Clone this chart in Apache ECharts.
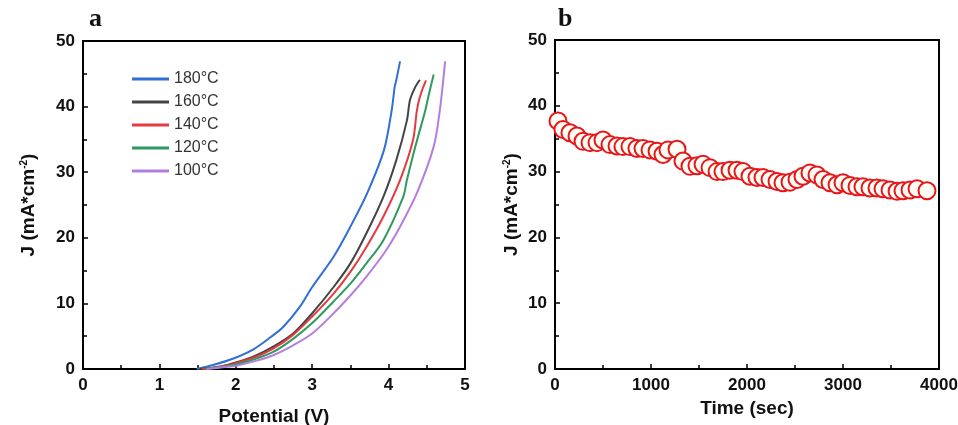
<!DOCTYPE html>
<html lang="en">
<head>
    <meta charset="UTF-8">
    <title>J-V and stability</title>
    <style>
        html, body { margin: 0; padding: 0; background: #fff; }
        #chart { width: 958px; height: 425px; }
    </style>
    <script src="https://cdn.jsdelivr.net/npm/echarts@6/dist/echarts.min.js"></script>
</head>
<body>
    <div id="chart"></div>
    <script>
        // panel a: J-V curves, [potential V, J mA/cm2]
        var legendNames = ['180°C', '160°C', '140°C', '120°C', '100°C'];
        var c180 = [[1.49, 0], [1.7, 0.6], [1.97, 1.6], [2.23, 3.0], [2.45, 4.8], [2.62, 6.4], [2.84, 9.5], [3.0, 12.5], [3.28, 17.1], [3.5, 21.7], [3.72, 26.8], [3.94, 33.4], [4.04, 39.4], [4.08, 43.0], [4.1, 44.0], [4.15, 46.9]];
        var c160 = [[1.53, 0], [1.8, 0.4], [2.0, 1.0], [2.25, 2.0], [2.49, 3.4], [2.75, 5.4], [3.0, 8.5], [3.28, 12.5], [3.5, 16.1], [3.71, 20.7], [3.93, 26.2], [4.1, 31.8], [4.24, 37.9], [4.28, 41.0], [4.35, 43.0], [4.41, 44.1]];
        var c140 = [[1.56, 0], [1.8, 0.35], [2.0, 0.9], [2.25, 1.8], [2.49, 3.1], [2.75, 5.2], [3.0, 8.0], [3.28, 11.5], [3.5, 14.8], [3.71, 18.6], [3.93, 23.2], [4.15, 28.8], [4.32, 34.9], [4.37, 39.4], [4.41, 41.5], [4.49, 44.0]];
        var c120 = [[1.6, 0], [1.8, 0.3], [2.0, 0.7], [2.25, 1.5], [2.49, 2.6], [2.75, 4.6], [3.0, 7.0], [3.28, 10.3], [3.5, 13.0], [3.71, 16.1], [3.93, 19.6], [4.19, 26.2], [4.24, 28.8], [4.35, 33.9], [4.48, 39.4], [4.52, 41.5], [4.59, 44.9]];
        var c100 = [[1.62, 0], [1.85, 0.3], [2.0, 0.5], [2.25, 1.2], [2.49, 2.1], [2.75, 3.6], [3.0, 5.4], [3.28, 8.5], [3.5, 11.2], [3.71, 14.1], [3.95, 17.8], [4.15, 21.7], [4.37, 26.8], [4.59, 33.9], [4.67, 39.4], [4.74, 46.9]];

        // panel b: stability test
        var timeSec = [31, 83, 156, 229, 292, 365, 438, 500, 573, 646, 708, 781, 854, 917, 990, 1063, 1125, 1177, 1271, 1333, 1406, 1479, 1542, 1615, 1688, 1750, 1823, 1896, 1958, 2031, 2104, 2167, 2240, 2313, 2375, 2448, 2521, 2583, 2656, 2729, 2792, 2865, 2938, 3000, 3073, 3146, 3208, 3281, 3354, 3417, 3490, 3563, 3625, 3698, 3771, 3875];
        var currentJ = [37.7, 36.4, 35.9, 35.4, 34.6, 34.4, 34.4, 34.8, 34.1, 33.9, 33.8, 33.8, 33.5, 33.5, 33.3, 33.1, 32.6, 33.3, 33.4, 31.6, 30.8, 30.9, 31.1, 30.6, 30.0, 30.0, 30.2, 30.2, 30.0, 29.3, 29.1, 29.1, 28.8, 28.5, 28.3, 28.4, 28.8, 29.3, 29.8, 29.5, 28.8, 28.3, 28.0, 28.3, 27.9, 27.7, 27.7, 27.5, 27.5, 27.4, 27.2, 27.0, 27.1, 27.2, 27.4, 27.1];

        var stab = timeSec.map(function (t, i) { return [t, currentJ[i]]; });
        var colors = ['#2f6fd6', '#444444', '#e53a40', '#2f9a5f', '#b47ee0'];
        var font = 'Liberation Sans, Arial, sans-serif';

        var labelStyle = { color: '#111', fontSize: 17, fontWeight: 'bold', fontFamily: font };
        var nameStyle = {
            color: '#111', fontSize: 19, fontWeight: 'bold', fontFamily: font,
            rich: { s: { fontSize: 10, fontWeight: 'bold', fontFamily: font, verticalAlign: 'top', lineHeight: 16, padding: [0, 0, 12, 0] } }
        };
        function axisCommon() {
            return {
                axisLine: { show: true, lineStyle: { color: '#000', width: 2 } },
                axisTick: { show: true, inside: true, length: 5, lineStyle: { color: '#000', width: 1.5 } },
                minorTick: { show: true, splitNumber: 2, length: 4, lineStyle: { color: '#000', width: 1.5 } },
                splitLine: { show: false },
                axisLabel: Object.assign({ margin: 8, formatter: function (v) { return String(v); } }, labelStyle),
                nameTextStyle: nameStyle,
                nameLocation: 'middle'
            };
        }

        var series = [];
        [c180, c160, c140, c120, c100].forEach(function (d, i) {
            series.push({
                name: legendNames[i],
                type: 'line',
                xAxisIndex: 0,
                yAxisIndex: 0,
                data: d,
                showSymbol: false,
                symbol: 'none',
                smooth: 0.3,
                lineStyle: { width: 2, color: colors[i] },
                itemStyle: { color: colors[i] }
            });
        });
        series.push({
            type: 'scatter',
            xAxisIndex: 1,
            yAxisIndex: 1,
            data: stab,
            symbol: 'circle',
            symbolSize: 17,
            itemStyle: { color: '#fffdf4', borderColor: '#e8161b', borderWidth: 2, opacity: 1 }
        });

        var myChart = echarts.init(document.getElementById('chart'));
        var option = {
            backgroundColor: '#fff',
            animation: false,
            grid: [
                { left: 83, top: 41, width: 382, height: 328, outerBoundsMode: 'none', show: true, borderColor: '#000', borderWidth: 2 },
                { left: 555, top: 40, width: 384, height: 329, outerBoundsMode: 'none', show: true, borderColor: '#000', borderWidth: 2 }
            ],
            legend: {
                data: legendNames,
                orient: 'vertical',
                left: 127,
                top: 66,
                itemWidth: 37,
                itemHeight: 3,
                itemGap: 7,
                icon: 'rect',
                textStyle: { fontSize: 16, color: '#333', fontFamily: font, padding: [0, 0, 0, 0] }
            },
            xAxis: [
                Object.assign(axisCommon(), { type: 'value', gridIndex: 0, min: 0, max: 5, interval: 1, name: 'Potential (V)', nameGap: 38 }),
                Object.assign(axisCommon(), { type: 'value', gridIndex: 1, min: 0, max: 4000, interval: 1000, name: 'Time (sec)', nameGap: 30 })
            ],
            yAxis: [
                Object.assign(axisCommon(), { type: 'value', gridIndex: 0, min: 0, max: 50, interval: 10, name: 'J (mA*cm{s|-2})', nameGap: 45 }),
                Object.assign(axisCommon(), { type: 'value', gridIndex: 1, min: 0, max: 50, interval: 10, name: 'J (mA*cm{s|-2})', nameGap: 34 })
            ],
            graphic: [
                { type: 'text', left: 89, top: 6, style: { text: 'a', font: 'bold 26px "Liberation Serif", "Times New Roman", serif', fill: '#111' } },
                { type: 'text', left: 558, top: 6, style: { text: 'b', font: 'bold 26px "Liberation Serif", "Times New Roman", serif', fill: '#111' } }
            ],
            series: series
        };
        myChart.setOption(option);
    </script>
</body>
</html>
